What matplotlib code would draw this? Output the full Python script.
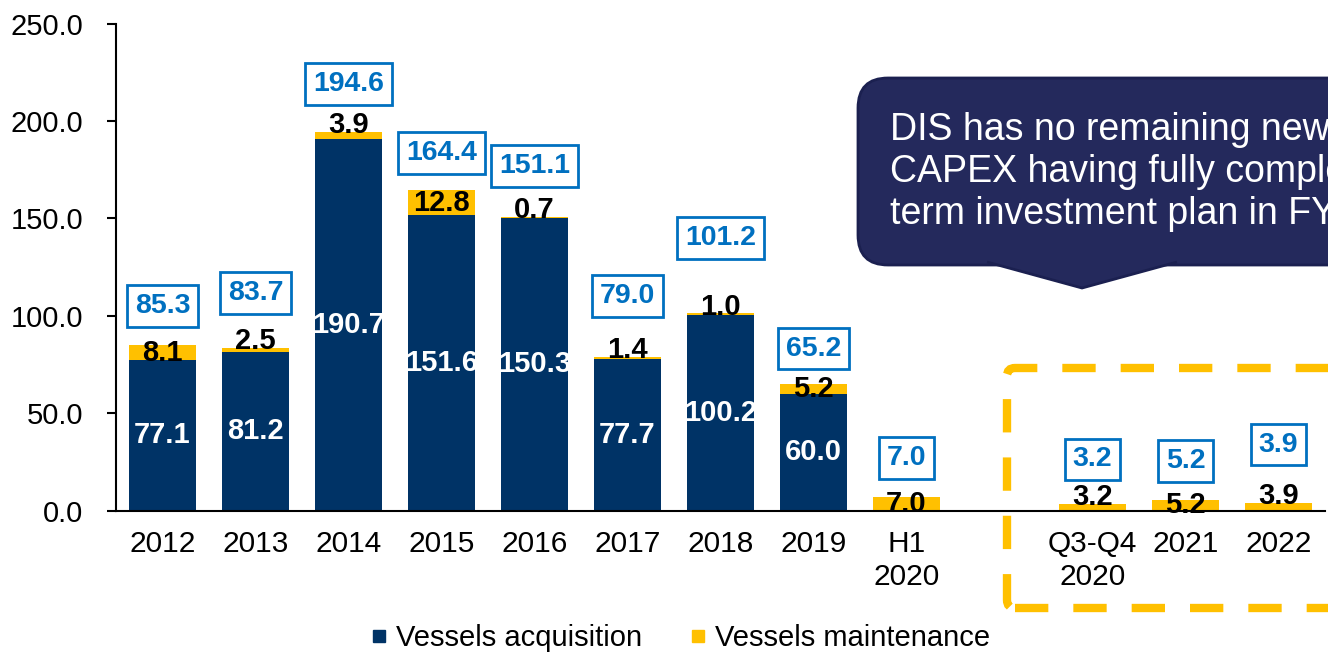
import matplotlib.pyplot as plt
from matplotlib.patches import FancyBboxPatch, Polygon
from matplotlib.lines import Line2D
import numpy as np

plt.rcParams['font.family'] = ['Liberation Sans', 'DejaVu Sans']

#   Dati
categories = ['2012', '2013', '2014', '2015', '2016', '2017', '2018', '2019',
              'H1\n2020', 'Q3-Q4\n2020', '2021', '2022']
acquisition = [77.1, 81.2, 190.7, 151.6, 150.3, 77.7, 100.2, 60.0, 0, 0, 0, 0]
maintenance = [8.1, 2.5, 3.9, 12.8, 0.7, 1.4, 1.0, 5.2, 7.0, 3.2, 5.2, 3.9]
totals = [85.3, 83.7, 194.6, 164.4, 151.1, 79.0, 101.2, 65.2, 7.0, 3.2, 5.2, 3.9]
yticks = [0, 50, 100, 150, 200, 250]
callout = ("DIS has no remaining newbuilding\n"
           "CAPEX having fully completed its long-\n"
           "term investment plan in FY2019")

#   Stile
navy = '#003366'
yellow = '#FFC000'
blue = '#0070C0'
box_lift = [20, 28, 24.5, 19, 26, 31, 39, 18, 20, 23, 20, 30]

#   Posizioni: uno slot vuoto dopo H1 2020
x = np.arange(len(categories)) + (np.arange(len(categories)) > 8)

fig = plt.figure(figsize=(13.28, 6.52), dpi=100)
ax = fig.add_axes([116/1328, (652-510.5)/652, (1325-116)/1328, (510.5-23.8)/652])

ax.bar(x, acquisition, 0.72, color=navy)
ax.bar(x, maintenance, 0.72, bottom=acquisition, color=yellow)

for xi, a, m, t, lift in zip(x, acquisition, maintenance, totals, box_lift):
    if a > 0:
        ax.text(xi, a/2, f'{a:.1f}', ha='center', va='center', color='white',
                fontsize=21, fontweight='bold')
    top = a + m
    ym = a + m/2 if m >= 5 else top + 3.5
    ax.text(xi, ym, f'{m:.1f}', ha='center', va='center', color='black',
            fontsize=21, fontweight='bold')
    ax.text(xi, top + lift, f'{t:.1f}', ha='center', va='center', color=blue,
            fontsize=20.5, fontweight='bold',
            bbox=dict(boxstyle='square,pad=0.28', fc='white', ec=blue, lw=2))

ax.set_xlim(-0.5, 12.5)
ax.set_ylim(0, 250)
ax.set_yticks(yticks)
ax.set_yticklabels([f'{v:.1f}' for v in yticks])
ax.set_xticks(x)
ax.set_xticklabels(categories, linespacing=1.25)
ax.tick_params(axis='x', length=0, pad=14, labelsize=21.5)
ax.tick_params(axis='y', length=6.5, width=1.5, pad=17, labelsize=21)
for s in ['top', 'right']:
    ax.spines[s].set_visible(False)
for s in ['left', 'bottom']:
    ax.spines[s].set_linewidth(1.5)

#   Legenda
handles = [Line2D([], [], marker='s', ls='', color=navy, markersize=9),
           Line2D([], [], marker='s', ls='', color=yellow, markersize=9)]
fig.legend(handles, ['Vessels acquisition', 'Vessels maintenance'], loc='center',
           bbox_to_anchor=(680/1328, 1-638/652), ncol=2, frameon=False, fontsize=21,
           handlelength=0.6, handletextpad=0.3, columnspacing=1.6)

#   Riquadro tratteggiato
tr = fig.dpi_scale_trans
dash = FancyBboxPatch((10.07, 0.44), 3.4, 2.40, boxstyle='round,pad=0,rounding_size=0.08',
                      fc='none', ec=yellow, lw=6, ls=(0, (4, 3)), transform=tr, clip_on=False)
fig.add_artist(dash)

#   Fumetto
cbox = FancyBboxPatch((8.58, 3.87), 5.0, 1.87, boxstyle='round,pad=0,rounding_size=0.3',
                      fc='#24295C', ec='#1B2050', lw=2, transform=tr, clip_on=False)
fig.add_artist(cbox)
tip = Polygon([(9.87, 3.90), (10.82, 3.64), (11.77, 3.90)], closed=False,
              fc='#24295C', ec='#1B2050', lw=2, transform=tr, clip_on=False)
fig.add_artist(tip)
fig.text(8.90, 6.52-1.72, callout, transform=tr, ha='left', va='center', color='white',
         fontsize=27, linespacing=1.2)

fig.savefig('out.png', dpi=100)
